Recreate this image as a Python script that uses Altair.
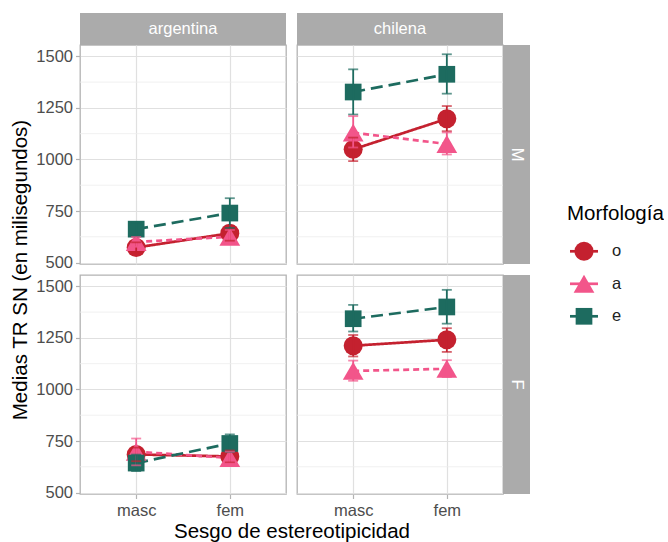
import altair as alt
import pandas as pd

FONT = "Liberation Sans"

paises = ["argentina", "chilena"]
generos = ["M", "F"]
sesgos = ["masc", "fem"]
morfologias = ["o", "a", "e"]

colores = ["#C4212F", "#F2558A", "#1D6B5F"]
formas = ["circle", "triangle-up", "square"]
tamanos = [361, 430, 279]
guiones = [[1, 0], [6, 4], [12, 6]]

# Medias de TR SN (ms) y extremos de las barras de error; cada lista es [masc, fem]
media = {
    ("argentina", "M"): {"o": [573, 642], "a": [600, 625], "e": [662, 740]},
    ("chilena", "M"): {"o": [1049, 1197], "a": [1130, 1075], "e": [1327, 1413]},
    ("argentina", "F"): {"o": [685, 675], "a": [698, 668], "e": [643, 738]},
    ("chilena", "F"): {"o": [1212, 1241], "a": [1090, 1100], "e": [1343, 1400]},
}
inferior = {
    ("argentina", "M"): {"o": [548, 606], "a": [576, 592], "e": [630, 668]},
    ("chilena", "M"): {"o": [992, 1137], "a": [1058, 1024], "e": [1218, 1319]},
    ("argentina", "F"): {"o": [652, 646], "a": [632, 640], "e": [604, 696]},
    ("chilena", "F"): {"o": [1160, 1182], "a": [1042, 1060], "e": [1281, 1319]},
}
superior = {
    ("argentina", "M"): {"o": [598, 678], "a": [624, 658], "e": [694, 812]},
    ("chilena", "M"): {"o": [1106, 1259], "a": [1210, 1131], "e": [1437, 1510]},
    ("argentina", "F"): {"o": [718, 704], "a": [762, 698], "e": [684, 782]},
    ("chilena", "F"): {"o": [1264, 1297], "a": [1140, 1142], "e": [1410, 1483]},
}

y_ticks = [500, 750, 1000, 1250, 1500]
y_minor = [625, 875, 1125, 1375]
y_dominio = [493, 1555]

W, H = 206, 219
GRIS_TIRA = "#ABABAB"

rows = []
for (pais, genero), vals in media.items():
    for m in morfologias:
        for i, s in enumerate(sesgos):
            rows.append({
                "pais": pais, "genero": genero, "morf": m, "sesgo": s,
                "media": vals[m][i],
                "inf": inferior[(pais, genero)][m][i],
                "sup": superior[(pais, genero)][m][i],
            })
df = pd.DataFrame(rows)

color = alt.Color("morf:N", scale=alt.Scale(domain=morfologias, range=colores), legend=None)
forma = alt.Shape("morf:N", scale=alt.Scale(domain=morfologias, range=formas), legend=None)
tamano = alt.Size("morf:N", scale=alt.Scale(type="ordinal", domain=morfologias, range=tamanos),
                  legend=None)


def panel(pais, genero, eje_x, eje_y, tira_arriba, tira_derecha):
    d = df[(df.pais == pais) & (df.genero == genero)]
    base = alt.Chart(d)

    if eje_x:
        ax_x = alt.Axis(title="Sesgo de estereotipicidad" if pais == "argentina" else None,
                        titleX=(2 * W + 11) / 2, labelAngle=0, grid=True, ticks=True,
                        labels=True, domain=False)
    else:
        ax_x = alt.Axis(title=None, grid=True, ticks=False, labels=False, domain=False)

    if eje_y:
        ax_y = alt.Axis(title="Medias TR SN (en milisegundos)" if genero == "M" else None,
                        titleY=(2 * H + 11) / 2, values=y_ticks, format="d", grid=True,
                        ticks=True, labels=True, domain=False)
    else:
        ax_y = alt.Axis(title=None, values=y_ticks, grid=True, ticks=False,
                        labels=False, domain=False)

    x = alt.X("sesgo:N", scale=alt.Scale(type="point", domain=sesgos, padding=0.6), axis=ax_x)
    y_scale = alt.Scale(domain=y_dominio, nice=False, zero=False)
    y = alt.Y("media:Q", scale=y_scale, axis=ax_y)

    menor = alt.Chart(pd.DataFrame({"v": y_minor})).mark_rule(
        color="#EDEDED", strokeWidth=0.8
    ).encode(y=alt.Y("v:Q", scale=y_scale))

    lineas = base.mark_line(strokeWidth=2.7).encode(
        x=x, y=y, color=color,
        strokeDash=alt.StrokeDash("morf:N", scale=alt.Scale(domain=morfologias, range=guiones),
                                  legend=None),
    )
    puntos = base.mark_point(filled=True, opacity=1, strokeWidth=0).encode(
        x=x, y=y, color=color, shape=forma, size=tamano,
    )
    barras = base.mark_rule(strokeWidth=1.8).encode(
        x=x, y=alt.Y("inf:Q", scale=y_scale), y2="sup:Q", color=color
    )
    tapa_inf = base.mark_tick(size=10, thickness=1.8).encode(
        x=x, y=alt.Y("inf:Q", scale=y_scale), color=color
    )
    tapa_sup = base.mark_tick(size=10, thickness=1.8).encode(
        x=x, y=alt.Y("sup:Q", scale=y_scale), color=color
    )

    capas = [menor, lineas, puntos, barras, tapa_inf, tapa_sup]

    if tira_arriba:
        t = alt.Chart(pd.DataFrame({"t": [pais]}))
        capas.append(t.mark_rect(color=GRIS_TIRA).encode(
            x=alt.value(0), x2=alt.value(W), y=alt.value(-32), y2=alt.value(0)))
        capas.append(t.mark_text(color="white", fontSize=16.5, font=FONT,
                                 baseline="middle", align="center").encode(
            x=alt.value(W / 2), y=alt.value(-16), text="t:N"))
    if tira_derecha:
        t = alt.Chart(pd.DataFrame({"t": [genero]}))
        capas.append(t.mark_rect(color=GRIS_TIRA).encode(
            x=alt.value(W), x2=alt.value(W + 27), y=alt.value(0), y2=alt.value(H)))
        capas.append(t.mark_text(color="white", fontSize=16.5, font=FONT, angle=90,
                                 baseline="middle", align="center").encode(
            x=alt.value(W + 13.5), y=alt.value(H / 2), text="t:N"))

    return alt.layer(*capas).properties(width=W, height=H)


# Leyenda: línea corta con el símbolo de cada morfología
ley_df = pd.DataFrame({"morf": morfologias})
ly = alt.Y("morf:N", scale=alt.Scale(type="point", domain=morfologias, range=[206.3, 271.3],
                                     padding=0), axis=None)
ley_base = alt.Chart(ley_df)
leyenda = alt.layer(
    alt.Chart(pd.DataFrame({"t": ["Morfología"]})).mark_text(
        align="left", baseline="middle", fontSize=20.5, font=FONT, color="black"
    ).encode(x=alt.value(53), y=alt.value(169.3), text="t:N"),
    ley_base.mark_rule(strokeWidth=2.7).encode(
        x=alt.value(56), x2=alt.value(84), y=ly, color=color),
    ley_base.mark_point(filled=True, opacity=1, strokeWidth=0).encode(
        x=alt.value(70), y=ly, color=color, shape=forma, size=tamano),
    ley_base.mark_text(align="left", baseline="middle", fontSize=16.5, font=FONT,
                       color="#222222").encode(x=alt.value(98), y=ly, text="morf:N"),
).properties(width=140, height=H, view=alt.ViewConfig(stroke=None))

chart = alt.concat(
    panel("argentina", "M", False, True, True, False),
    panel("chilena", "M", False, False, True, True),
    leyenda,
    panel("argentina", "F", True, True, False, False),
    panel("chilena", "F", True, False, False, True),
    columns=3, spacing=11, bounds="flush",
).properties(
    padding={"left": 10, "top": 12, "right": 0, "bottom": 0}
).configure(
    font=FONT,
).configure_view(
    stroke="#B3B3B3", strokeWidth=1.3,
).configure_axis(
    gridColor="#E0E0E0", gridWidth=1.2,
    tickColor="#B3B3B3", tickWidth=1.2, tickSize=4.5,
    labelColor="#4D4D4D", labelFontSize=16.5, labelFont=FONT, labelPadding=3,
    titleColor="black", titleFontSize=20.5, titleFont=FONT, titleFontWeight="normal",
    titlePadding=5,
).configure_axisX(labelPadding=4, titlePadding=2)

chart.save("out.html", embed_options={"renderer": "svg", "actions": False})
